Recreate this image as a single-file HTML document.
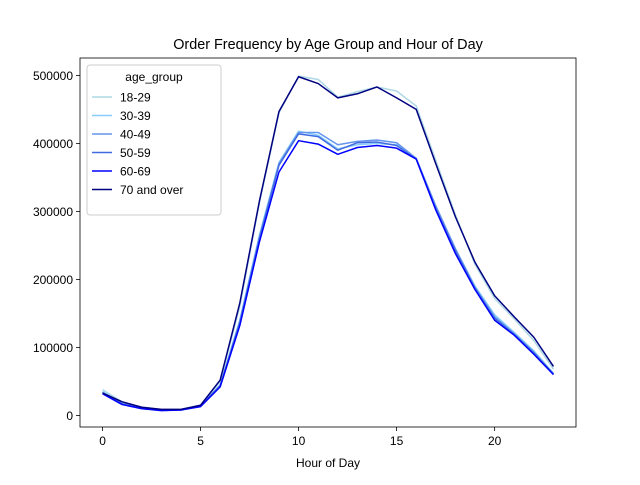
<!DOCTYPE html>
<html><head><meta charset="utf-8"><style>
body{margin:0;background:#fff;font-family:"Liberation Sans",sans-serif}
svg text{font-family:"Liberation Sans",sans-serif}
</style></head><body>
<svg id="chart" width="640" height="480" xmlns="http://www.w3.org/2000/svg"></svg>
<script>
const hours=[0,1,2,3,4,5,6,7,8,9,10,11,12,13,14,15,16,17,18,19,20,21,22,23];
const seriesNames=["18-29","30-39","40-49","50-59","60-69","70 and over"];
const s1829=[38000,20000,12000,9000,9000,15000,50000,160000,312000,445000,499000,494000,468000,476000,483000,477000,455000,375000,295000,222000,172000,142000,110000,68000];
const s3039=[35000,18000,11000,8000,8000,14000,45000,140000,265000,372000,418000,412000,392000,398000,400000,398000,378000,305000,245000,190000,148000,122000,95000,62000];
const s4049=[34000,17000,10000,8000,8000,14000,44000,138000,262000,370000,416000,416000,398000,403000,405000,401000,378000,308000,245000,188000,145000,120000,93000,61000];
const s5059=[33000,17000,10000,8000,8000,14000,44000,136000,260000,368000,414000,410000,390000,401000,402000,397000,377000,304000,242000,187000,143000,119000,92000,61000];
const s6069=[32000,16000,10000,7000,8000,13000,42000,132000,255000,358000,404000,399000,384000,394000,397000,393000,377000,302000,238000,185000,140000,118000,90000,60000];
const s70=[33000,20000,12000,9000,9000,15000,52000,165000,315000,447000,498000,488000,467000,473000,483000,467000,450000,370000,292000,225000,176000,145000,115000,72000];
const allSeries=[s1829,s3039,s4049,s5059,s6069,s70];
const colors=["#add8e6","#87cefa","#6495ed","#4169e1","#0000ff","#000080"];
const xTicks=[0,5,10,15,20];
const yTicks=[0,100000,200000,300000,400000,500000];
const L=80,R=576,T=58,B=427;
const xMin=-1.15,xMax=24.15,yMin=-17000,yMax=525600;
const X=v=>L+(v-xMin)/(xMax-xMin)*(R-L);
const Y=v=>B-(v-yMin)/(yMax-yMin)*(B-T);
const svg=document.getElementById('chart');
const NS="http://www.w3.org/2000/svg";
function mk(tag,attrs,parent){const e=document.createElementNS(NS,tag);for(const k in attrs)e.setAttribute(k,attrs[k]);(parent||svg).appendChild(e);return e;}
const title=mk('text',{x:328,y:49,'text-anchor':'middle','font-size':14.4,fill:'#000'});
title.textContent="Order Frequency by Age Group and Hour of Day";


xTicks.forEach(t=>{
 const l=mk('line',{x1:X(t),x2:X(t),y1:B,y2:B+4,stroke:'#000','stroke-width':0.8});
 
 
 const tx=mk('text',{x:X(t),y:B+18,'text-anchor':'middle','font-size':12,fill:'#000'});
 tx.textContent=t;
 
 
});
yTicks.forEach(t=>{
 const l=mk('line',{x1:L-4,x2:L,y1:Y(t),y2:Y(t),stroke:'#000','stroke-width':0.8});
 
 
 const tx=mk('text',{x:L-7,y:Y(t)+4.5,'text-anchor':'end','font-size':12,fill:'#000'});
 tx.textContent=t;
 
 
});
const xl=mk('text',{x:328,y:467,'text-anchor':'middle','font-size':12,fill:'#000'});
xl.textContent="Hour of Day";


allSeries.forEach((s,i)=>{
 const p=mk('polyline',{points:s.map((v,j)=>X(hours[j])+','+Y(v)).join(' '),fill:'none',stroke:colors[i],'stroke-width':1.5,'stroke-linejoin':'round'});
 
 
});
const frame=mk('rect',{x:L,y:T,width:R-L,height:B-T,fill:'none',stroke:'#000','stroke-width':0.8});


const lg=mk('g',{});


mk('rect',{x:87,y:65,width:134,height:150,rx:3,fill:'#fff','fill-opacity':0.8,stroke:'#ccc','stroke-width':1},lg);
const lt=mk('text',{x:154,y:81,'text-anchor':'middle','font-size':12,fill:'#000'},lg);
lt.textContent="age_group";


seriesNames.forEach((n,i)=>{
 const y=97+i*18.5;
 const ln=mk('line',{x1:92,x2:112,y1:y,y2:y,stroke:colors[i],'stroke-width':1.5},lg);
 
 
 const t=mk('text',{x:120,y:y+4.5,'font-size':12,fill:'#000'},lg);
 t.textContent=n;
 
 
});
</script>
</body></html>
